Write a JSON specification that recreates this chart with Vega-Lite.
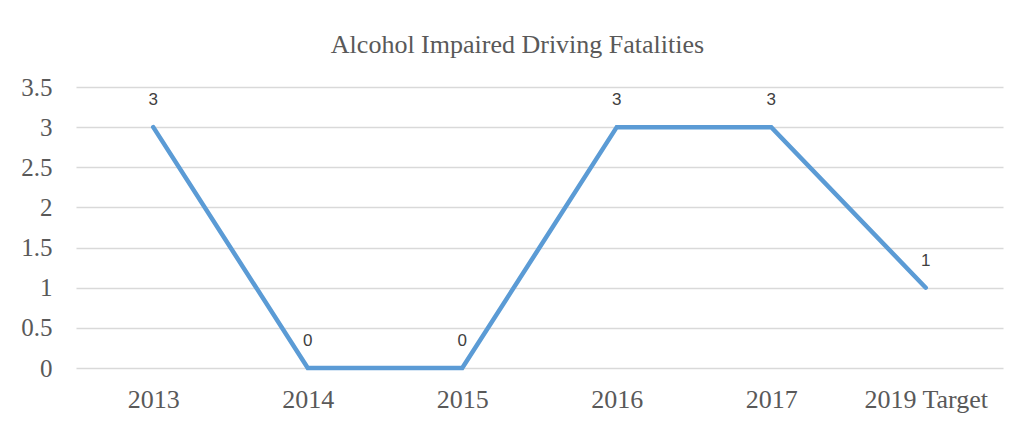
{
  "$schema": "https://vega.github.io/schema/vega-lite/v6.json",
  "autosize": {"type": "none"},
  "width": 927,
  "height": 281,
  "padding": {"left": 76, "top": 87, "right": 13, "bottom": 54},
  "background": "white",
  "title": {
    "text": "Alcohol Impaired Driving Fatalities",
    "font": "Liberation Serif",
    "fontSize": 26,
    "fontWeight": "normal",
    "color": "#595959",
    "anchor": "middle",
    "dx": -22,
    "offset": 17
  },
  "data": {
    "values": [
      {"year": "2013", "value": 3},
      {"year": "2014", "value": 0},
      {"year": "2015", "value": 0},
      {"year": "2016", "value": 3},
      {"year": "2017", "value": 3},
      {"year": "2019 Target", "value": 1}
    ]
  },
  "encoding": {
    "x": {
      "field": "year",
      "type": "ordinal",
      "sort": null,
      "scale": {"type": "point", "padding": 0.5},
      "axis": {
        "title": null,
        "labelAngle": 0,
        "labelFont": "Liberation Serif",
        "labelFontSize": 26,
        "labelColor": "#595959",
        "labelPadding": 18,
        "ticks": false,
        "domain": false,
        "grid": false
      }
    },
    "y": {
      "field": "value",
      "type": "quantitative",
      "scale": {"domain": [0, 3.5], "nice": false},
      "axis": {
        "title": null,
        "values": [0, 0.5, 1, 1.5, 2, 2.5, 3, 3.5],
        "format": "~g",
        "labelFont": "Liberation Serif",
        "labelFontSize": 25,
        "labelColor": "#595959",
        "labelPadding": 24,
        "ticks": false,
        "domain": false,
        "grid": true,
        "gridColor": "#d9d9d9",
        "gridWidth": 1.5
      }
    }
  },
  "layer": [
    {
      "mark": {"type": "line", "color": "#5b9bd5", "strokeWidth": 4.5, "strokeJoin": "miter", "strokeCap": "round"}
    },
    {
      "mark": {"type": "text", "font": "Liberation Sans", "fontSize": 17, "color": "#404040", "dy": -27},
      "encoding": {"text": {"field": "value", "type": "quantitative"}}
    }
  ],
  "config": {"view": {"stroke": null}}
}
